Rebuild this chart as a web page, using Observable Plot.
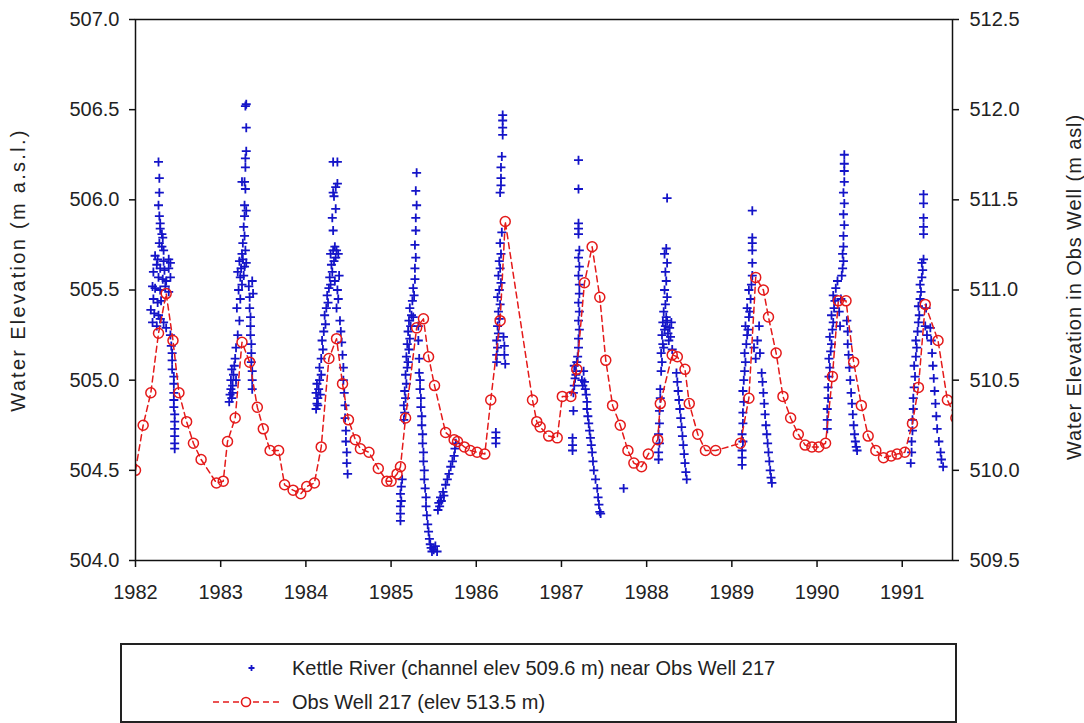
<!DOCTYPE html>
<html><head><meta charset="utf-8">
<script src="https://cdn.jsdelivr.net/npm/d3@7"></script>
<script src="https://cdn.jsdelivr.net/npm/@observablehq/plot@0.6"></script>
<style>
body{margin:0;background:#fff;font-family:"Liberation Sans",Arial,sans-serif;}
#wrap{position:relative;width:1084px;height:723px;overflow:hidden;background:#fff}
#legend{position:absolute;left:120px;top:643px;width:833px;height:76px;border:2px solid #222;background:#fff;color:#222;font-size:20px}
#legend .row{position:absolute;left:0;height:26px;width:100%}
#legend .lbl{position:absolute;left:170px;top:0;line-height:26px;white-space:nowrap}
#legend svg{position:absolute;left:80px;top:0}
</style></head><body><div id="wrap"><div id="chart"></div>
<div id="legend">
  <div class="row" style="top:10px"><svg width="90" height="26"><path d="M46.5,13h6M49.5,10v6" stroke="#1414c8" stroke-width="1.8"/></svg><span class="lbl" id="lbl1"></span></div>
  <div class="row" style="top:44px"><svg width="90" height="26"><line x1="11" y1="13" x2="81" y2="13" stroke="#e41a1a" stroke-width="1.6" stroke-dasharray="6,4"/><circle cx="44" cy="13" r="4.5" fill="white" stroke="#e41a1a" stroke-width="1.6"/></svg><span class="lbl" id="lbl2"></span></div>
</div></div>
<script>
// ---------- data ----------
const years = [1982,1983,1984,1985,1986,1987,1988,1989,1990,1991];
const leftTicks = [504.0,504.5,505.0,505.5,506.0,506.5,507.0];
const rightTicks = [509.5,510.0,510.5,511.0,511.5,512.0,512.5];
const xDomain = [1982, 1991.59];
const leftTitle = "Water Elevation (m a.s.l.)";
const rightTitle = "Water Elevation in Obs Well (m asl)";
const riverName = "Kettle River (channel elev 509.6 m) near Obs Well 217";
const wellName = "Obs Well 217 (elev 513.5 m)";

// Kettle River stage [decimal year, m a.s.l.] (left axis)
const river1982 = [[1982.27,506.21],[1982.28,506.12],[1982.28,506.04],[1982.27,505.97],[1982.28,505.91],[1982.29,505.87],[1982.29,505.84],[1982.31,505.81],[1982.32,505.79],[1982.28,505.76],[1982.31,505.74],[1982.33,505.72],[1982.23,505.69],[1982.26,505.67],[1982.33,505.66],[1982.39,505.67],[1982.41,505.65],[1982.25,505.64],[1982.29,505.62],[1982.34,505.61],[1982.39,505.62],[1982.21,505.60],[1982.27,505.57],[1982.32,505.56],[1982.36,505.55],[1982.41,505.57],[1982.20,505.52],[1982.23,505.51],[1982.29,505.50],[1982.35,505.52],[1982.39,505.49],[1982.21,505.45],[1982.26,505.43],[1982.30,505.44],[1982.18,505.39],[1982.22,505.37],[1982.27,505.36],[1982.20,505.32],[1982.25,505.30],[1982.29,505.34],[1982.33,505.32],[1982.36,505.29],[1982.41,505.25],[1982.42,505.19],[1982.43,505.15],[1982.43,505.11],[1982.43,505.06],[1982.45,505.02],[1982.45,504.98],[1982.45,504.93],[1982.45,504.89],[1982.45,504.85],[1982.46,504.81],[1982.46,504.77],[1982.46,504.73],[1982.46,504.69],[1982.46,504.65],[1982.46,504.62]];
const river1983 = [[1983.10,504.88],[1983.11,504.92],[1983.12,504.95],[1983.13,504.90],[1983.14,504.97],[1983.12,505.00],[1983.15,505.03],[1983.13,505.06],[1983.16,505.08],[1983.17,505.12],[1983.14,504.93],[1983.18,505.00],[1983.18,505.18],[1983.20,505.25],[1983.22,505.33],[1983.19,505.40],[1983.23,505.45],[1983.21,505.50],[1983.25,505.53],[1983.23,505.57],[1983.27,505.58],[1983.20,505.60],[1983.24,505.62],[1983.28,505.63],[1983.22,505.66],[1983.26,505.67],[1983.30,505.65],[1983.25,505.70],[1983.29,505.72],[1983.26,505.76],[1983.28,505.80],[1983.27,505.85],[1983.28,505.91],[1983.30,505.94],[1983.28,505.97],[1983.29,506.06],[1983.25,506.10],[1983.28,506.10],[1983.29,506.18],[1983.29,506.23],[1983.30,506.27],[1983.30,506.40],[1983.29,506.52],[1983.30,506.53],[1983.33,505.52],[1983.34,505.46],[1983.34,505.40],[1983.35,505.35],[1983.35,505.30],[1983.35,505.25],[1983.36,505.20],[1983.36,505.15],[1983.36,505.10],[1983.37,505.05],[1983.37,505.00],[1983.37,504.95],[1983.38,505.48],[1983.37,505.55]];
const river1984 = [[1984.12,504.84],[1984.13,504.87],[1984.14,504.90],[1984.12,504.93],[1984.15,504.95],[1984.13,504.98],[1984.16,505.00],[1984.14,504.86],[1984.17,504.92],[1984.18,505.03],[1984.16,505.07],[1984.18,505.12],[1984.20,505.17],[1984.19,505.22],[1984.21,505.27],[1984.23,505.31],[1984.22,505.36],[1984.24,505.40],[1984.26,505.43],[1984.25,505.47],[1984.27,505.51],[1984.29,505.53],[1984.28,505.57],[1984.31,505.60],[1984.30,505.64],[1984.33,505.66],[1984.35,505.68],[1984.29,505.70],[1984.32,505.72],[1984.36,505.72],[1984.38,505.70],[1984.34,505.74],[1984.32,505.83],[1984.31,505.90],[1984.35,505.95],[1984.33,506.02],[1984.32,506.04],[1984.35,506.07],[1984.37,506.09],[1984.32,506.21],[1984.37,506.21],[1984.34,505.55],[1984.37,505.50],[1984.39,505.58],[1984.38,505.45],[1984.36,505.40],[1984.40,505.33],[1984.41,505.27],[1984.42,505.21],[1984.43,505.14],[1984.44,505.07],[1984.44,505.00],[1984.45,504.93],[1984.46,504.86],[1984.46,504.79],[1984.47,504.72],[1984.47,504.66],[1984.48,504.60],[1984.48,504.54],[1984.49,504.48]];
const river1985 = [[1985.11,504.22],[1985.11,504.26],[1985.11,504.30],[1985.12,504.33],[1985.11,504.37],[1985.12,504.41],[1985.13,504.45],[1985.15,504.78],[1985.16,504.82],[1985.15,504.86],[1985.17,504.90],[1985.16,504.94],[1985.18,504.98],[1985.17,505.03],[1985.19,505.07],[1985.20,505.10],[1985.18,505.13],[1985.21,505.17],[1985.19,505.20],[1985.22,505.23],[1985.20,505.27],[1985.23,505.30],[1985.21,505.33],[1985.24,505.36],[1985.26,505.35],[1985.22,505.40],[1985.25,505.44],[1985.27,505.47],[1985.26,505.51],[1985.28,505.56],[1985.28,505.62],[1985.29,505.68],[1985.28,505.75],[1985.29,505.83],[1985.29,505.90],[1985.30,505.97],[1985.29,506.05],[1985.30,506.15],[1985.32,505.30],[1985.32,505.22],[1985.33,505.12],[1985.33,505.04],[1985.34,505.00],[1985.34,504.95],[1985.35,504.90],[1985.35,504.85],[1985.36,504.80],[1985.36,504.75],[1985.37,504.70],[1985.37,504.65],[1985.38,504.60],[1985.38,504.55],[1985.39,504.50],[1985.39,504.45],[1985.40,504.40],[1985.41,504.35],[1985.41,504.30],[1985.42,504.25],[1985.43,504.20],[1985.44,504.16],[1985.45,504.12],[1985.46,504.09],[1985.47,504.07],[1985.48,504.05],[1985.50,504.06],[1985.52,504.08],[1985.54,504.05],[1985.55,504.28],[1985.56,504.32],[1985.57,504.30],[1985.58,504.35],[1985.59,504.33],[1985.61,504.38],[1985.62,504.36],[1985.64,504.42],[1985.66,504.45],[1985.68,504.48],[1985.70,504.52],[1985.72,504.55],[1985.74,504.58],[1985.75,504.62],[1985.76,504.65]];
const river1986 = [[1986.23,504.65],[1986.23,504.68],[1986.23,504.71],[1986.24,505.10],[1986.24,505.14],[1986.25,505.18],[1986.24,505.22],[1986.26,505.26],[1986.25,505.30],[1986.27,505.34],[1986.26,505.38],[1986.28,505.42],[1986.25,505.46],[1986.27,505.50],[1986.29,505.54],[1986.26,505.58],[1986.28,505.62],[1986.27,505.66],[1986.29,505.70],[1986.28,505.76],[1986.30,505.82],[1986.28,506.04],[1986.29,506.08],[1986.29,506.12],[1986.29,506.18],[1986.30,506.24],[1986.31,506.36],[1986.31,506.40],[1986.31,506.44],[1986.31,506.47],[1986.32,505.24],[1986.33,505.19],[1986.33,505.14],[1986.34,505.09]];
const river1987 = [[1987.13,504.61],[1987.13,504.64],[1987.13,504.68],[1987.14,504.83],[1987.14,504.93],[1987.15,504.97],[1987.16,505.01],[1987.17,505.05],[1987.15,505.08],[1987.18,505.10],[1987.19,505.13],[1987.17,505.03],[1987.20,505.18],[1987.20,505.23],[1987.21,505.28],[1987.20,505.33],[1987.21,505.38],[1987.20,505.43],[1987.21,505.48],[1987.21,505.53],[1987.20,505.58],[1987.21,505.63],[1987.20,505.68],[1987.21,505.72],[1987.20,505.81],[1987.20,505.84],[1987.20,505.87],[1987.20,506.06],[1987.20,506.22],[1987.24,505.00],[1987.25,504.97],[1987.26,505.05],[1987.27,504.99],[1987.28,504.95],[1987.29,504.92],[1987.30,504.88],[1987.30,504.84],[1987.31,504.80],[1987.32,504.76],[1987.33,504.72],[1987.34,504.68],[1987.35,504.64],[1987.36,504.60],[1987.37,504.55],[1987.38,504.50],[1987.40,504.45],[1987.42,504.40],[1987.43,504.35],[1987.44,504.31],[1987.45,504.27],[1987.46,504.26],[1987.73,504.40]];
const river1988 = [[1988.14,504.56],[1988.14,504.60],[1988.15,504.65],[1988.14,504.70],[1988.15,504.76],[1988.15,504.83],[1988.16,504.90],[1988.16,504.95],[1988.17,505.05],[1988.18,505.10],[1988.17,505.15],[1988.19,505.20],[1988.20,505.18],[1988.18,505.25],[1988.21,505.28],[1988.19,505.32],[1988.22,505.30],[1988.23,505.35],[1988.20,505.38],[1988.24,505.33],[1988.25,505.26],[1988.22,505.42],[1988.24,505.46],[1988.21,505.50],[1988.23,505.55],[1988.22,505.60],[1988.24,505.65],[1988.21,505.70],[1988.23,505.73],[1988.24,506.01],[1988.26,505.22],[1988.27,505.29],[1988.28,505.24],[1988.30,505.17],[1988.29,505.32],[1988.35,505.04],[1988.36,504.99],[1988.37,504.94],[1988.38,504.89],[1988.39,504.84],[1988.40,504.79],[1988.41,504.74],[1988.42,504.69],[1988.43,504.64],[1988.44,504.59],[1988.45,504.54],[1988.46,504.49],[1988.47,504.45]];
const river1989 = [[1989.12,504.53],[1989.12,504.57],[1989.12,504.61],[1989.13,504.66],[1989.12,504.70],[1989.13,504.76],[1989.13,504.82],[1989.14,504.88],[1989.13,504.94],[1989.14,505.00],[1989.15,505.05],[1989.16,505.10],[1989.15,505.15],[1989.17,505.20],[1989.18,505.25],[1989.16,505.30],[1989.19,505.28],[1989.20,505.35],[1989.18,505.40],[1989.21,505.38],[1989.22,505.45],[1989.20,505.50],[1989.23,505.53],[1989.24,505.58],[1989.24,505.65],[1989.24,505.72],[1989.24,505.76],[1989.24,505.79],[1989.24,505.94],[1989.26,505.18],[1989.28,505.12],[1989.30,505.22],[1989.32,505.30],[1989.33,505.15],[1989.35,505.04],[1989.36,504.99],[1989.37,504.93],[1989.38,504.87],[1989.39,504.81],[1989.40,504.75],[1989.41,504.70],[1989.42,504.65],[1989.43,504.60],[1989.44,504.55],[1989.45,504.50],[1989.46,504.46],[1989.47,504.43]];
const river1990 = [[1990.12,504.73],[1990.12,504.78],[1990.12,504.84],[1990.13,504.90],[1990.13,504.96],[1990.14,505.02],[1990.15,505.07],[1990.14,505.12],[1990.16,505.16],[1990.17,505.20],[1990.15,505.24],[1990.18,505.28],[1990.19,505.32],[1990.17,505.36],[1990.20,505.40],[1990.21,505.44],[1990.19,505.47],[1990.22,505.51],[1990.24,505.55],[1990.26,505.38],[1990.28,505.45],[1990.27,505.30],[1990.29,505.58],[1990.30,505.62],[1990.31,505.66],[1990.30,505.70],[1990.31,505.74],[1990.31,505.80],[1990.32,505.86],[1990.31,505.92],[1990.32,505.98],[1990.31,506.04],[1990.32,506.10],[1990.32,506.16],[1990.32,506.20],[1990.32,506.25],[1990.35,505.33],[1990.36,505.27],[1990.36,505.20],[1990.37,505.14],[1990.38,505.07],[1990.39,505.00],[1990.40,504.93],[1990.41,504.87],[1990.42,504.81],[1990.43,504.75],[1990.44,504.70],[1990.45,504.66],[1990.46,504.63],[1990.47,504.61]];
const river1991 = [[1991.10,504.54],[1991.11,504.60],[1991.11,504.66],[1991.12,504.72],[1991.12,504.78],[1991.13,504.84],[1991.13,504.90],[1991.14,504.96],[1991.15,505.02],[1991.14,505.08],[1991.16,505.13],[1991.17,505.18],[1991.16,505.22],[1991.18,505.27],[1991.19,505.32],[1991.20,505.36],[1991.19,505.41],[1991.21,505.45],[1991.22,505.49],[1991.21,505.53],[1991.23,505.57],[1991.24,505.61],[1991.23,505.65],[1991.25,505.67],[1991.25,505.81],[1991.25,505.85],[1991.25,505.90],[1991.25,505.98],[1991.25,506.03],[1991.27,505.30],[1991.28,505.40],[1991.29,505.25],[1991.33,505.29],[1991.34,505.22],[1991.35,505.15],[1991.36,505.08],[1991.37,505.01],[1991.38,504.94],[1991.39,504.87],[1991.40,504.80],[1991.41,504.73],[1991.43,504.66],[1991.45,504.60],[1991.46,504.56],[1991.48,504.52]];

// Obs Well 217 water level (right axis, m asl)
const wellT = [1982.00,1982.09,1982.18,1982.27,1982.36,1982.44,1982.51,1982.60,1982.68,1982.77,1982.95,1983.03,1983.08,1983.17,1983.25,1983.34,1983.43,1983.50,1983.58,1983.68,1983.75,1983.85,1983.94,1984.01,1984.10,1984.18,1984.27,1984.36,1984.43,1984.50,1984.58,1984.64,1984.74,1984.85,1984.95,1985.00,1985.07,1985.11,1985.17,1985.30,1985.38,1985.44,1985.51,1985.64,1985.74,1985.78,1985.86,1985.93,1986.01,1986.10,1986.17,1986.28,1986.34,1986.66,1986.71,1986.75,1986.85,1986.95,1987.01,1987.11,1987.18,1987.27,1987.36,1987.45,1987.52,1987.60,1987.69,1987.78,1987.85,1987.94,1988.02,1988.13,1988.16,1988.30,1988.36,1988.45,1988.50,1988.60,1988.69,1988.81,1989.10,1989.20,1989.28,1989.37,1989.43,1989.52,1989.60,1989.69,1989.78,1989.86,1989.94,1990.02,1990.10,1990.18,1990.25,1990.34,1990.43,1990.52,1990.60,1990.69,1990.78,1990.87,1990.94,1991.03,1991.12,1991.19,1991.27,1991.42,1991.53,1991.63];
const wellV = [510.00,510.25,510.43,510.76,510.98,510.72,510.43,510.27,510.15,510.06,509.93,509.94,510.16,510.29,510.71,510.60,510.35,510.23,510.11,510.11,509.92,509.89,509.87,509.91,509.93,510.13,510.62,510.73,510.48,510.28,510.17,510.12,510.10,510.01,509.94,509.94,509.98,510.02,510.29,510.79,510.84,510.63,510.47,510.21,510.17,510.16,510.13,510.11,510.10,510.09,510.39,510.83,511.38,510.39,510.27,510.24,510.19,510.18,510.41,510.41,510.56,511.04,511.24,510.96,510.61,510.36,510.25,510.11,510.04,510.02,510.09,510.17,510.37,510.64,510.63,510.56,510.37,510.20,510.11,510.11,510.15,510.40,511.07,511.00,510.85,510.65,510.41,510.29,510.20,510.14,510.13,510.13,510.15,510.52,510.94,510.94,510.60,510.36,510.19,510.11,510.07,510.08,510.09,510.10,510.26,510.46,510.92,510.72,510.39,510.29];

// ---------- build ----------
const BLUE = "#1414c8", RED = "#e41a1a";
const OFFSET = rightTicks[rightTicks.length - 1] - leftTicks[leftTicks.length - 1];
const river = [river1982, river1983, river1984, river1985, river1986, river1987, river1988, river1989, river1990, river1991].flat().map(([t, v]) => ({t, v}));
const well = wellT.map((t, i) => ({t, v: wellV[i]}));

const chart = Plot.plot({
  width: 1084, height: 630,
  marginLeft: 135, marginRight: 132, marginTop: 19, marginBottom: 70,
  style: {fontFamily: '"Liberation Sans", Arial, sans-serif', fontSize: "20px", color: "#222", background: "white", overflow: "visible"},
  x: {domain: xDomain},
  y: {domain: [leftTicks[0], leftTicks[leftTicks.length - 1]]},
  marks: [
    Plot.axisX({ticks: years, tickFormat: d => String(d), tickSize: 7, tickPadding: 17, label: null, stroke: "#111", strokeWidth: 1.5}),
    Plot.axisY({anchor: "left", ticks: leftTicks, tickFormat: d => d.toFixed(1), tickSize: 6, tickPadding: 10, label: null, stroke: "#111", strokeWidth: 1.5}),
    Plot.axisY({anchor: "right", ticks: rightTicks.map(v => v - OFFSET), tickFormat: d => (d + OFFSET).toFixed(1), tickSize: 6, tickPadding: 11, label: null, stroke: "#111", strokeWidth: 1.5}),
    Plot.dot(river, {x: "t", y: "v", symbol: "plus", r: 3, stroke: BLUE, strokeWidth: 1.8, clip: true}),
    Plot.line(well, {x: "t", y: d => d.v - OFFSET, stroke: RED, strokeWidth: 1.5, strokeDasharray: "6,4", clip: true}),
    Plot.dot(well, {x: "t", y: d => d.v - OFFSET, r: 5, stroke: RED, strokeWidth: 1.5, fill: "none", clip: true}),
    Plot.frame({stroke: "#111", strokeWidth: 1.5}),
    Plot.text([leftTitle], {text: d => d, frameAnchor: "left", textAnchor: "middle", lineAnchor: "middle", dx: -117, dy: -20, rotate: -90, fontSize: 20, fill: "#222"}),
    Plot.text([rightTitle], {text: d => d, frameAnchor: "right", textAnchor: "middle", lineAnchor: "middle", dx: 122, dy: -3, rotate: -90, fontSize: 20, fill: "#222"})
  ]
});
chart.querySelectorAll("text").forEach(t => {
  if (t.textContent === leftTitle) t.style.letterSpacing = "2.3px";
  if (t.textContent === rightTitle) t.style.letterSpacing = "0.9px";
});
document.getElementById("chart").appendChild(chart);
document.getElementById("lbl1").textContent = riverName;
document.getElementById("lbl2").textContent = wellName;
</script></body></html>
